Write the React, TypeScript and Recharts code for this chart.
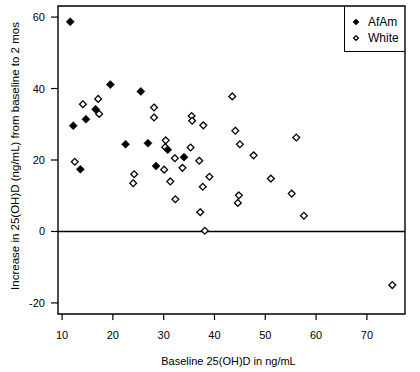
import { ScatterChart, Scatter, XAxis, YAxis, ReferenceLine, ReferenceArea } from "recharts"

const afamBaseline = [11.6, 12.2, 13.6, 14.7, 16.6, 19.5, 22.5, 25.5, 26.9, 28.5, 30.8, 34.0]
const afamIncrease = [58.7, 29.6, 17.4, 31.4, 34.2, 41.1, 24.4, 39.2, 24.7, 18.3, 22.9, 20.8]

const whiteBaseline = [
  12.5, 14.1, 17.1, 17.3, 24.2, 24.0, 28.1, 28.1, 30.4, 30.3, 30.1, 31.3, 32.2, 32.3, 33.7, 35.5, 35.6, 35.3,
  37.0, 37.7, 37.2, 37.8, 38.1, 39.0, 43.5, 44.1, 45.0, 44.8, 44.6, 47.7, 51.1, 55.2, 56.1, 57.6, 75.0,
]
const whiteIncrease = [
  19.5, 35.6, 37.1, 32.9, 16.0, 13.5, 34.7, 31.9, 25.5, 23.6, 17.3, 14.0, 20.5, 9.0, 17.8, 32.3, 31.0, 23.5,
  19.8, 12.5, 5.4, 29.7, 0.2, 15.3, 37.8, 28.2, 24.4, 10.1, 8.0, 21.3, 14.8, 10.6, 26.3, 4.4, -15.0,
]

const groups = ["AfAm", "White"]
const xTicks = [10, 20, 30, 40, 50, 60, 70]
const yTicks = [-20, 0, 20, 40, 60]
const xDomain = [9.2, 77.5]
const yDomain = [-23.1, 63.1]
const xTitle = "Baseline 25(OH)D in ng/mL"
const yTitle = "Increase in 25(OH)D (ng/mL) from baseline to 2 mos"

const afamData = afamBaseline.map((x, i) => ({ x, y: afamIncrease[i] }))
const whiteData = whiteBaseline.map((x, i) => ({ x, y: whiteIncrease[i] }))

const font = "'Liberation Sans', Arial, sans-serif"

function Diamond({ cx, cy, filled, r = 4 }: any) {
  if (cx == null || cy == null) return null
  const h = filled ? r : r - 0.6
  const pts = `${cx},${cy - h} ${cx + h},${cy} ${cx},${cy + h} ${cx - h},${cy}`
  return (
    <polygon
      points={pts}
      fill={filled ? "#000" : "#fff"}
      stroke="#000"
      strokeWidth={filled ? 0.6 : 1.3}
    />
  )
}

function XTick({ x, y, payload }: any) {
  return (
    <g>
      <line x1={x} y1={y} x2={x} y2={y + 6} stroke="#000" strokeWidth={1.2} />
      <text x={x} y={y + 25} textAnchor="middle" fontSize={11} fontFamily={font} fill="#000">
        {payload.value}
      </text>
    </g>
  )
}

function YTick({ x, y, payload }: any) {
  return (
    <g>
      <line x1={x - 7} y1={y} x2={x} y2={y} stroke="#000" strokeWidth={1.2} />
      <text x={x - 13} y={y + 4} textAnchor="end" fontSize={11} fontFamily={font} fill="#000">
        {payload.value}
      </text>
    </g>
  )
}

function XTitle({ viewBox }: any) {
  const { x, y, width } = viewBox
  return (
    <text x={x + width / 2 - 3} y={y + 51} textAnchor="middle" fontSize={11} fontFamily={font} fill="#000">
      {xTitle}
    </text>
  )
}

function YTitle({ viewBox }: any) {
  const { y, height } = viewBox
  const cy = y + height / 2 - 4
  return (
    <text
      x={19}
      y={cy}
      transform={`rotate(-90 19 ${cy})`}
      textAnchor="middle"
      fontSize={11.5}
      fontFamily={font}
      fill="#000"
    >
      {yTitle}
    </text>
  )
}

export default function App() {
  return (
    <div style={{ position: "absolute", left: 0, top: 0, width: 420, height: 372, background: "#fff" }}>
      <ScatterChart width={420} height={372} margin={{ top: 6, right: 15, left: 0, bottom: 0 }}>
        <XAxis
          type="number"
          dataKey="x"
          domain={xDomain}
          ticks={xTicks}
          height={58}
          axisLine={false}
          tickLine={false}
          tickSize={0}
          tickMargin={0}
          tick={<XTick />}
          allowDataOverflow
          label={<XTitle />}
        />
        <YAxis
          type="number"
          dataKey="y"
          domain={yDomain}
          ticks={yTicks}
          width={58}
          axisLine={false}
          tickLine={false}
          tickSize={0}
          tickMargin={0}
          tick={<YTick />}
          allowDataOverflow
          label={<YTitle />}
        />
        <ReferenceArea
          x1={xDomain[0]}
          x2={xDomain[1]}
          y1={yDomain[0]}
          y2={yDomain[1]}
          fill="none"
          stroke="#000"
          strokeWidth={1.4}
          fillOpacity={0}
        />
        <ReferenceLine y={0} stroke="#000" strokeWidth={1.4} />
        <Scatter
          name={groups[1]}
          data={whiteData}
          isAnimationActive={false}
          shape={(p: any) => <Diamond cx={p.cx} cy={p.cy} />}
        />
        <Scatter
          name={groups[0]}
          data={afamData}
          isAnimationActive={false}
          shape={(p: any) => <Diamond cx={p.cx} cy={p.cy} filled />}
        />
      </ScatterChart>
      <div
        style={{
          position: "absolute",
          left: 344,
          top: 6,
          width: 61,
          height: 46,
          borderLeft: "1px solid #000",
          borderBottom: "1px solid #000",
          fontFamily: font,
          fontSize: 12,
          boxSizing: "border-box",
        }}
      >
        {groups.map((g, i) => (
          <div
            key={g}
            style={{ position: "absolute", left: 6, top: 9 + i * 16, height: 14, display: "flex", alignItems: "center" }}
          >
            <svg width={10} height={10}>
              <Diamond cx={5} cy={5} r={3} filled={i === 0} />
            </svg>
            <span style={{ marginLeft: 7 }}>{g}</span>
          </div>
        ))}
      </div>
    </div>
  )
}
